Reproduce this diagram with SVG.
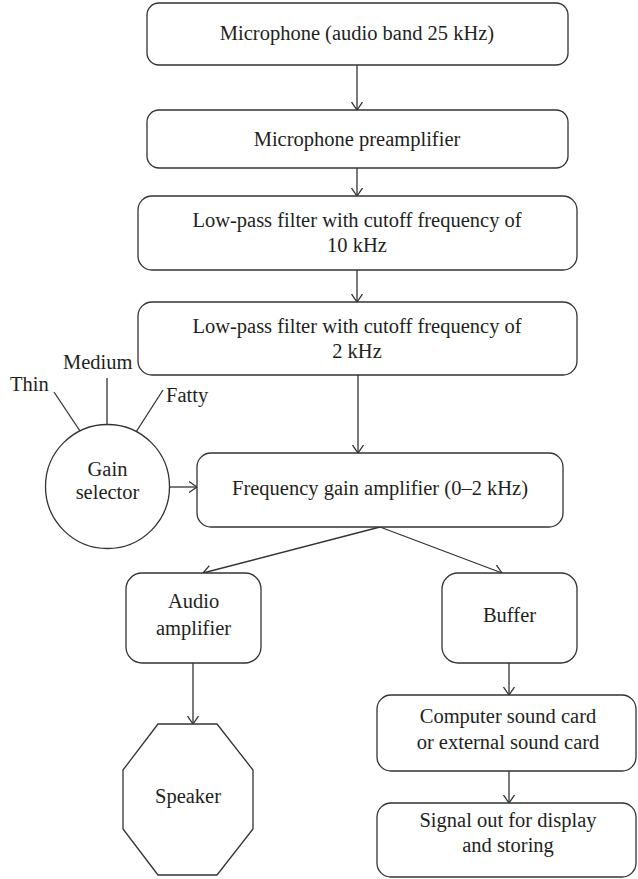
<svg xmlns="http://www.w3.org/2000/svg" width="638" height="879" viewBox="0 0 638 879">
<style>
.box{fill:#fff;stroke:#333;stroke-width:1.3}
.ln{fill:none;stroke:#333;stroke-width:1.3}
.t{font-family:"Liberation Serif","Times New Roman",serif;font-size:20.5px;fill:#231f20;text-anchor:middle}
.tl{font-family:"Liberation Serif","Times New Roman",serif;font-size:20.5px;fill:#231f20}
</style>
<defs>
<marker id="ah" viewBox="0 0 9 12" refX="8.5" refY="6" markerWidth="9" markerHeight="12" markerUnits="userSpaceOnUse" orient="auto">
<path d="M0.5,0.5 L8.5,6 L0.5,11.5" fill="none" stroke="#333" stroke-width="1.3"/>
</marker>
</defs>
<g id="connectors">
<line class="ln" x1="357" y1="65" x2="357" y2="110" marker-end="url(#ah)"/>
<line class="ln" x1="357" y1="168" x2="357" y2="196" marker-end="url(#ah)"/>
<line class="ln" x1="357" y1="270" x2="357" y2="302" marker-end="url(#ah)"/>
<line class="ln" x1="358" y1="375" x2="358" y2="453" marker-end="url(#ah)"/>
<line class="ln" x1="169" y1="487" x2="197" y2="487" marker-end="url(#ah)"/>
<line class="ln" x1="380" y1="527" x2="203" y2="573" marker-end="url(#ah)"/>
<line class="ln" x1="380" y1="527" x2="502" y2="573" marker-end="url(#ah)"/>
<line class="ln" x1="193" y1="663" x2="193" y2="724" marker-end="url(#ah)"/>
<line class="ln" x1="509" y1="663" x2="509" y2="695" marker-end="url(#ah)"/>
<line class="ln" x1="509" y1="771" x2="509" y2="803" marker-end="url(#ah)"/>
<line class="ln" x1="54" y1="392" x2="80" y2="431"/>
<line class="ln" x1="107" y1="378" x2="107" y2="425"/>
<line class="ln" x1="163" y1="390" x2="136" y2="432"/>
</g>
<g id="microphone">
<rect class="box" x="147" y="3" width="421" height="62" rx="12"/>
<text class="t" x="357" y="40">Microphone (audio band 25 kHz)</text>
</g>
<g id="preamp">
<rect class="box" x="147" y="110" width="421" height="58" rx="12"/>
<text class="t" x="357" y="146">Microphone preamplifier</text>
</g>
<g id="lpf10">
<rect class="box" x="138" y="196" width="439" height="74" rx="14"/>
<text class="t" x="357" y="227">Low-pass filter with cutoff frequency of</text>
<text class="t" x="357" y="252">10 kHz</text>
</g>
<g id="lpf2">
<rect class="box" x="138" y="302" width="439" height="73" rx="14"/>
<text class="t" x="357" y="333">Low-pass filter with cutoff frequency of</text>
<text class="t" x="357" y="358">2 kHz</text>
</g>
<g id="gain-selector">
<circle class="box" cx="107.5" cy="486.5" r="62"/>
<text class="t" x="107.5" y="476">Gain</text>
<text class="t" x="107.5" y="499">selector</text>
<text class="tl" x="10" y="391">Thin</text>
<text class="tl" x="63" y="369">Medium</text>
<text class="tl" x="166" y="402">Fatty</text>
</g>
<g id="freq-gain-amp">
<rect class="box" x="197" y="453" width="366" height="74" rx="14"/>
<text class="t" x="380" y="495">Frequency gain amplifier (0–2 kHz)</text>
</g>
<g id="audio-amp">
<rect class="box" x="126" y="573" width="135" height="90" rx="16"/>
<text class="t" x="193.5" y="608">Audio</text>
<text class="t" x="193.5" y="635">amplifier</text>
</g>
<g id="speaker">
<polygon class="box" points="158,724 217,724 253,770 253,829 217,875 158,875 123,829 123,770"/>
<text class="t" x="188" y="803">Speaker</text>
</g>
<g id="buffer">
<rect class="box" x="442" y="573" width="135" height="90" rx="16"/>
<text class="t" x="509.5" y="622">Buffer</text>
</g>
<g id="sound-card">
<rect class="box" x="377" y="695" width="259" height="76" rx="14"/>
<text class="t" x="508" y="723">Computer sound card</text>
<text class="t" x="508" y="749">or external sound card</text>
</g>
<g id="signal-out">
<rect class="box" x="377" y="803" width="259" height="74" rx="14"/>
<text class="t" x="508" y="827">Signal out for display</text>
<text class="t" x="508" y="852">and storing</text>
</g>
</svg>
